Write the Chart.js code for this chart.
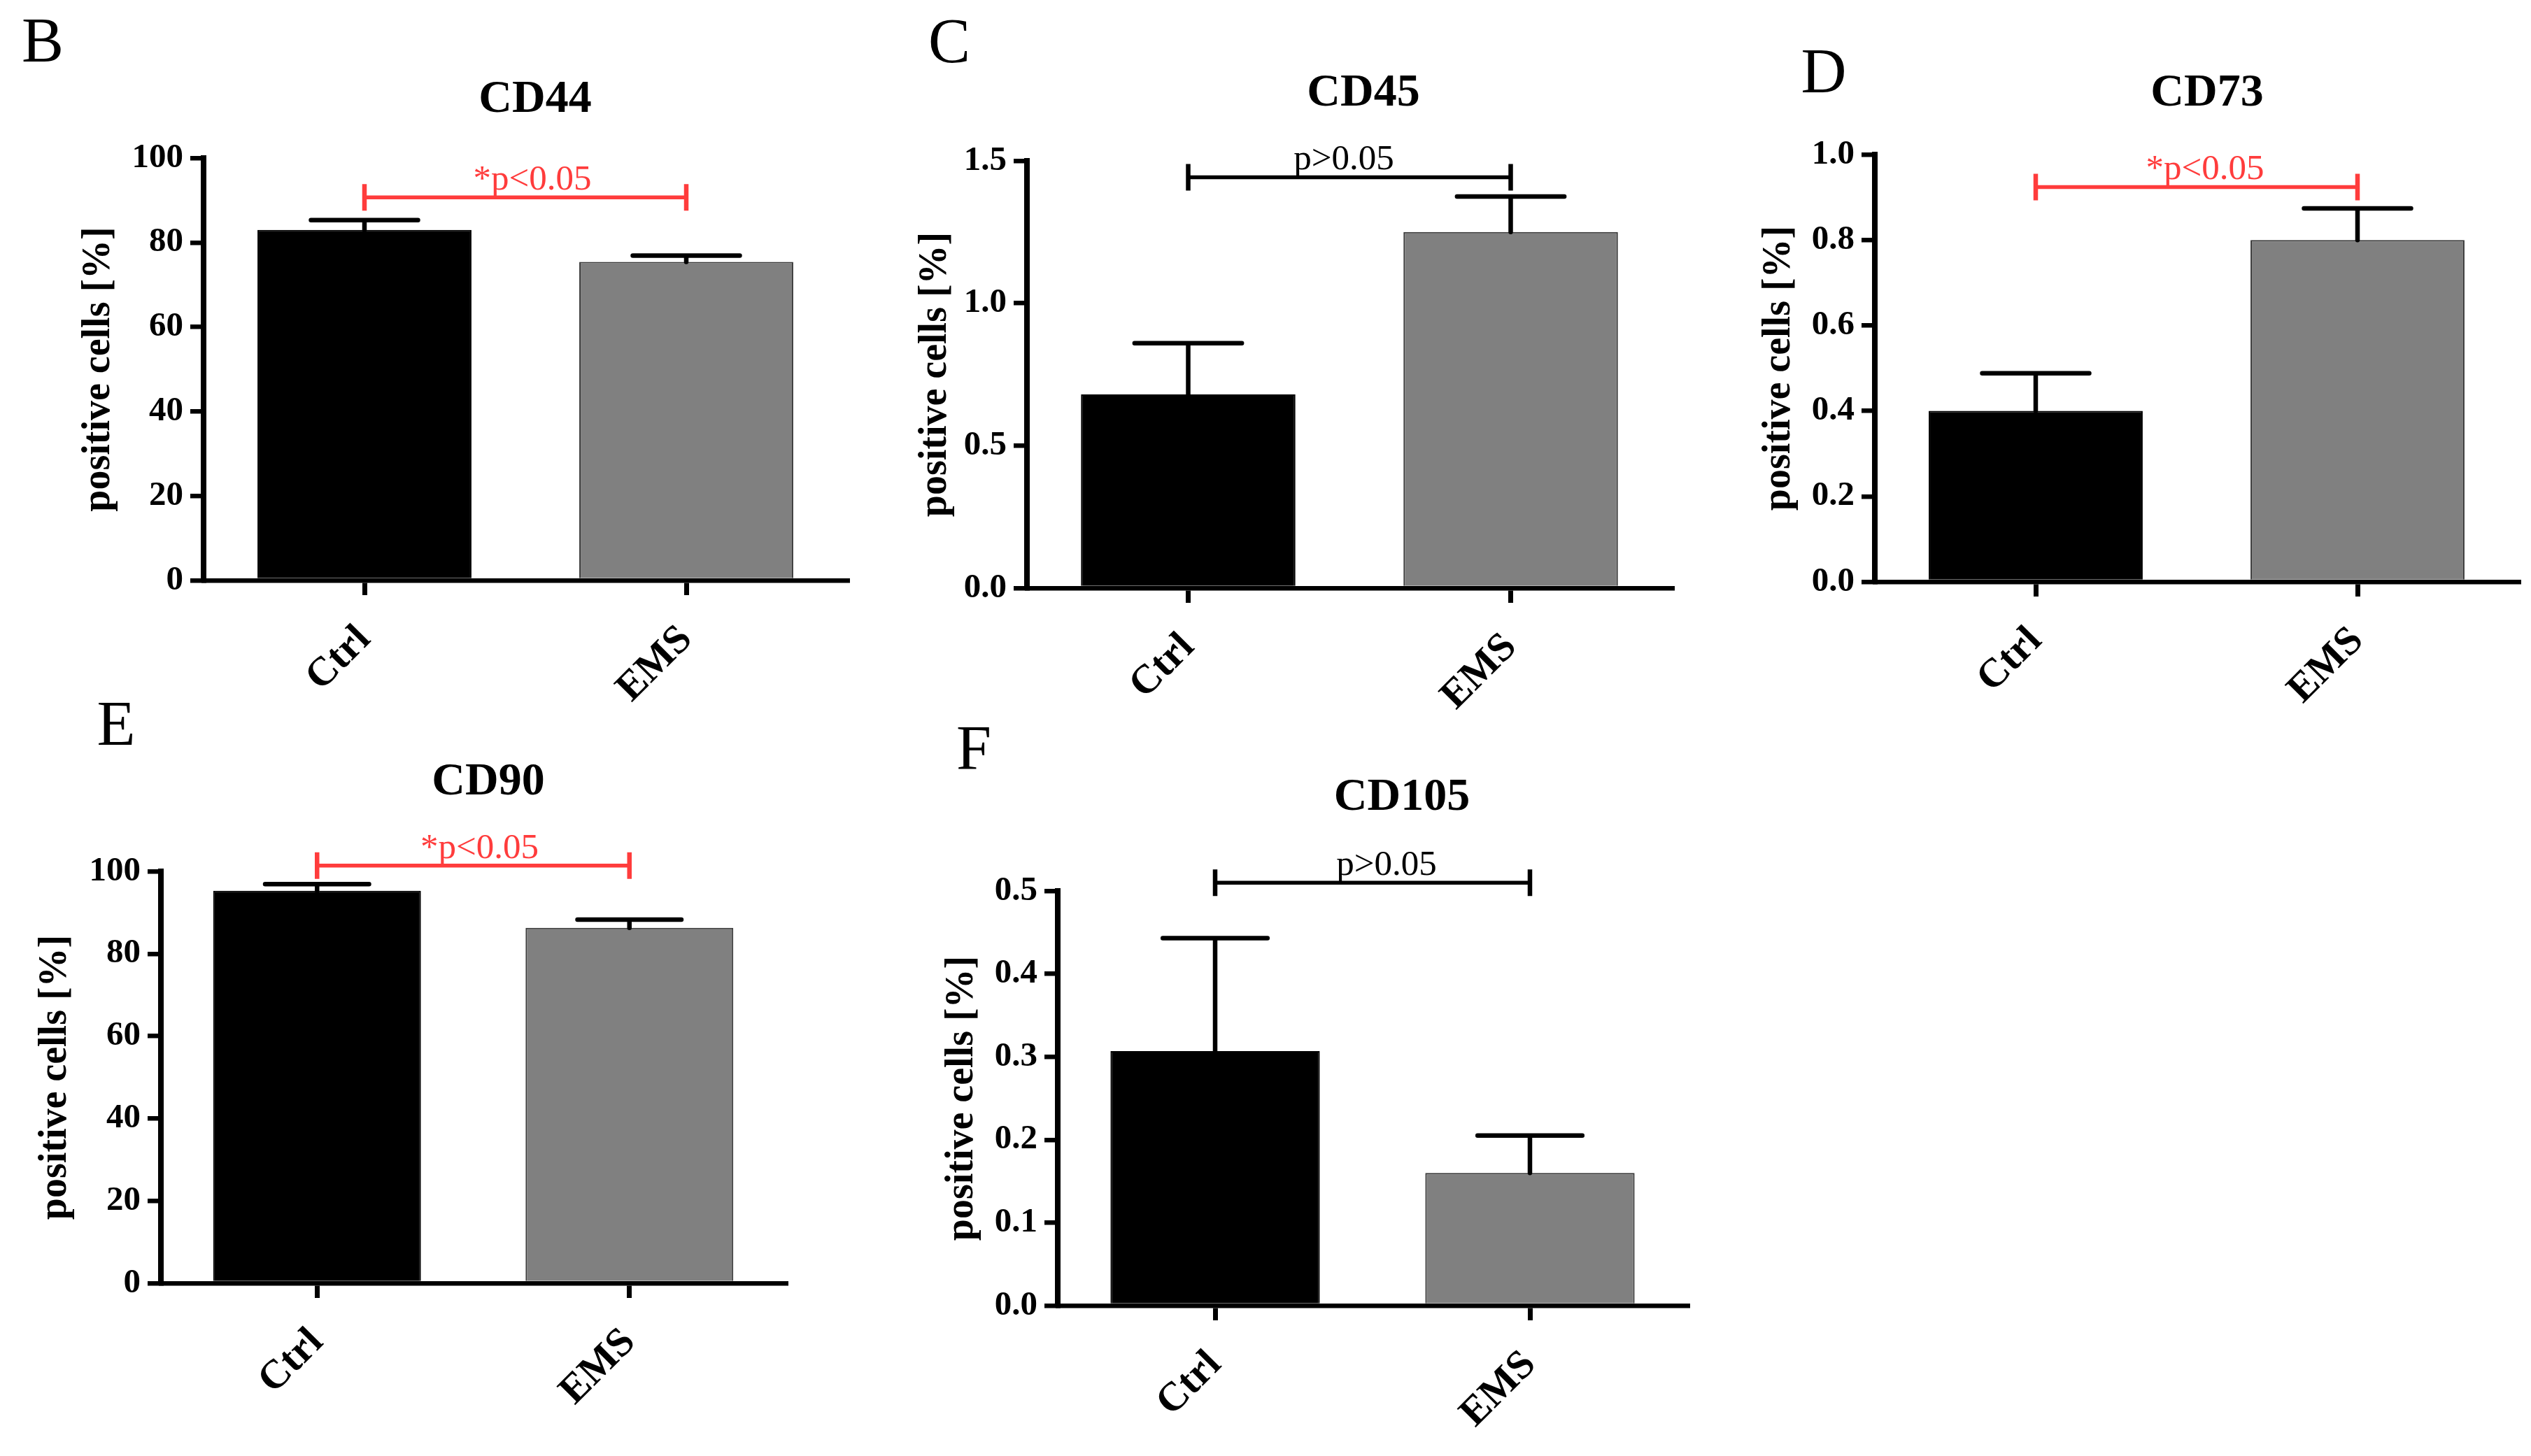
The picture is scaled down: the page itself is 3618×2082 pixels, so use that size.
<!DOCTYPE html>
<html>
<head>
<meta charset="utf-8">
<script src="https://cdn.jsdelivr.net/npm/chart.js@4.4.1/dist/chart.umd.min.js"></script>
<style>
  html, body { margin: 0; padding: 0; background: #fff; }
  body { width: 3618px; height: 2082px; position: relative; overflow: hidden; }
  canvas { position: absolute; }
</style>
</head>
<body>
<script>
// ---- data ----
const categories = ['Ctrl', 'EMS'];
const panelLetters = ['B', 'C', 'D', 'E', 'F'];
const markerNames = ['CD44', 'CD45', 'CD73', 'CD90', 'CD105'];
const yAxisTitle = 'positive cells [%]';

const cd44Mean = [83.0, 75.4];
const cd44Err = [2.3, 1.5];
const cd45Mean = [0.68, 1.25];
const cd45Err = [0.18, 0.125];
const cd73Mean = [0.40, 0.80];
const cd73Err = [0.088, 0.074];
const cd90Mean = [95.3, 86.3];
const cd90Err = [1.6, 2.0];
const cd105Mean = [0.307, 0.160];
const cd105Err = [0.136, 0.045];

const yMax = [100, 1.5, 1.0, 100, 0.5];
const yStep = [20, 0.5, 0.2, 20, 0.1];
const yDecimals = [0, 1, 1, 0, 1];

const sigLabels = ['*p<0.05', 'p>0.05', '*p<0.05', '*p<0.05', 'p>0.05'];
const sigLevel = [90.7, 1.4425, 0.924, 101.4, 0.510];
const significant = [true, false, true, true, false];

const means = [cd44Mean, cd45Mean, cd73Mean, cd90Mean, cd105Mean];
const errors = [cd44Err, cd45Err, cd73Err, cd90Err, cd105Err];

// ---- page layout (pixels) ----
const frames = [
  {x: 0,    y: 0,    w: 1241, h: 1040, left: 291,  right: 1211, top: 226,  bottom: 830,  yTitleX: 142,  letter: [61, 64],     title: [765, 143],   shift: 10},
  {x: 1250, y: 0,    w: 1170, h: 1040, left: 1468, right: 2390, top: 230,  bottom: 841,  yTitleX: 1338, letter: [1357, 65],   title: [1949, 134],  shift: -8},
  {x: 2440, y: 0,    w: 1175, h: 1040, left: 2680, right: 3600, top: 221,  bottom: 832,  yTitleX: 2544, letter: [2607, 108],  title: [3155, 134],  shift: 12},
  {x: 0,    y: 1000, w: 1153, h: 1082, left: 230,  right: 1123, top: 1246, bottom: 1835, yTitleX: 80,   letter: [166, 1041],  title: [698, 1119],  shift: 9},
  {x: 1250, y: 1000, w: 1192, h: 1082, left: 1512, right: 2412, top: 1274, bottom: 1867, yTitleX: 1376, letter: [1392, 1076], title: [2004, 1141], shift: 20},
];

const SERIF = '"Liberation Serif", "Times New Roman", serif';
const RED = '#ff3c3c';
Chart.defaults.font.family = SERIF;
Chart.defaults.color = '#000';

const Y_TITLE_SIZE = 56;

function makeDecor(i, f) {
  return {
    id: 'panelDecor' + i,
    afterDatasetsDraw(chart) {
      const {ctx, scales: {x, y}} = chart;
      const meta = chart.getDatasetMeta(0);
      ctx.save();
      // upper error bars (mean + error)
      ctx.strokeStyle = '#000';
      ctx.lineWidth = 6.5;
      ctx.lineCap = 'round';
      errors[i].forEach((e, k) => {
        const bar = meta.data[k];
        const yTop = y.getPixelForValue(means[i][k] + e);
        const half = bar.width / 4;
        ctx.beginPath();
        ctx.moveTo(bar.x, bar.y);
        ctx.lineTo(bar.x, yTop);
        ctx.moveTo(bar.x - half, yTop);
        ctx.lineTo(bar.x + half, yTop);
        ctx.stroke();
      });
      // significance bracket
      const color = significant[i] ? RED : '#000';
      const x0 = x.getPixelForValue(0);
      const x1 = x.getPixelForValue(1);
      const yb = y.getPixelForValue(sigLevel[i]);
      ctx.strokeStyle = color;
      ctx.lineWidth = 5.5;
      ctx.lineCap = 'butt';
      ctx.beginPath();
      ctx.moveTo(x0, yb); ctx.lineTo(x1, yb);
      ctx.stroke();
      ctx.lineWidth = 6.5;
      ctx.beginPath();
      ctx.moveTo(x0, yb - 19); ctx.lineTo(x0, yb + 19);
      ctx.moveTo(x1, yb - 19); ctx.lineTo(x1, yb + 19);
      ctx.stroke();
      ctx.fillStyle = color;
      ctx.font = '51px ' + SERIF;
      ctx.textAlign = 'center';
      ctx.textBaseline = 'alphabetic';
      ctx.fillText(sigLabels[i], (x0 + x1) / 2 + f.shift, yb - 11);
      ctx.restore();
    },
    afterDraw(chart) {
      const ctx = chart.ctx;
      ctx.save();
      ctx.fillStyle = '#000';
      ctx.textAlign = 'center';
      ctx.textBaseline = 'middle';
      ctx.font = '90px ' + SERIF;
      ctx.fillText(panelLetters[i], f.letter[0] - f.x, f.letter[1] - f.y);
      ctx.font = 'bold 66px ' + SERIF;
      ctx.fillText(markerNames[i], f.title[0] - f.x, f.title[1] - f.y);
      ctx.restore();
    }
  };
}

frames.forEach((f, i) => {
  const canvas = document.createElement('canvas');
  canvas.width = f.w;
  canvas.height = f.h;
  canvas.style.left = f.x + 'px';
  canvas.style.top = f.y + 'px';
  canvas.style.width = f.w + 'px';
  canvas.style.height = f.h + 'px';
  document.body.appendChild(canvas);

  const padRight = f.x + f.w - f.right;
  const yTitlePad = f.yTitleX - f.x - Y_TITLE_SIZE * 1.2 / 2;

  new Chart(canvas.getContext('2d'), {
    type: 'bar',
    data: {
      labels: categories,
      datasets: [{
        data: means[i],
        backgroundColor: ['#000000', '#808080'],
        borderColor: ['#000000', '#3a3a3a'],
        borderWidth: 2,
        barPercentage: 0.665,
        categoryPercentage: 1
      }]
    },
    options: {
      responsive: false,
      devicePixelRatio: 1,
      animation: false,
      events: [],
      layout: {padding: {top: f.top - f.y, right: padRight, bottom: 0, left: 0}},
      plugins: {legend: {display: false}, tooltip: {enabled: false}},
      scales: {
        x: {
          type: 'category',
          offset: true,
          afterFit: (s) => { s.height = f.y + f.h - f.bottom; },
          grid: {display: true, offset: false, drawOnChartArea: false, drawTicks: true,
                 tickLength: 21, tickWidth: 7, tickColor: '#000', lineWidth: 7, color: '#000'},
          border: {display: true, color: '#000', width: 6.5},
          ticks: {font: {size: 58, weight: 'bold'}, color: '#000', maxRotation: 45, minRotation: 45,
                  autoSkip: false, padding: 30}
        },
        y: {
          min: 0,
          max: yMax[i],
          afterFit: (s) => { s.width = f.left - f.x; },
          grid: {display: true, drawOnChartArea: false, drawTicks: true,
                 tickLength: 19, tickWidth: 6.5, tickColor: '#000', lineWidth: 6.5, color: '#000'},
          border: {display: true, color: '#000', width: 8},
          ticks: {
            stepSize: yStep[i],
            font: {size: 49, weight: 'bold'},
            color: '#000',
            padding: 10,
            callback: (v) => Number(v).toFixed(yDecimals[i])
          },
          title: {display: true, text: yAxisTitle, color: '#000',
                  font: {size: Y_TITLE_SIZE, weight: 'bold'}, padding: {top: yTitlePad, bottom: 0}}
        }
      }
    },
    plugins: [makeDecor(i, f)]
  });
});
</script>
</body>
</html>
